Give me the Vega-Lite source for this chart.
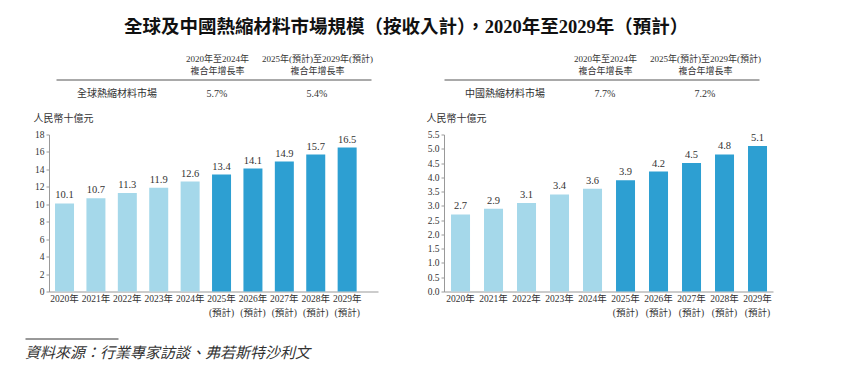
{
  "$schema": "https://vega.github.io/schema/vega-lite/v6.json",
  "background": "white",
  "padding": {"left": 25, "top": 17.5, "right": 5, "bottom": 5},
  "title": {
    "text": "全球及中國熱縮材料市場規模（按收入計），2020年至2029年（預計）",
    "anchor": "middle",
    "fontSize": 18.5,
    "fontWeight": "bold",
    "font": "'Liberation Serif', 'Noto Sans CJK TC', serif",
    "color": "#111111",
    "offset": 18.5,
    "dx": 7
  },
  "columns": 2,
  "spacing": {"row": 47, "column": 42},
  "bounds": "flush",
  "align": "each",
  "center": true,
  "datasets": {
    "global": [
      {"year": "2020年", "value": 10.1, "period": "actual"},
      {"year": "2021年", "value": 10.7, "period": "actual"},
      {"year": "2022年", "value": 11.3, "period": "actual"},
      {"year": "2023年", "value": 11.9, "period": "actual"},
      {"year": "2024年", "value": 12.6, "period": "actual"},
      {"year": "2025年\n(預計)", "value": 13.4, "period": "forecast"},
      {"year": "2026年\n(預計)", "value": 14.1, "period": "forecast"},
      {"year": "2027年\n(預計)", "value": 14.9, "period": "forecast"},
      {"year": "2028年\n(預計)", "value": 15.7, "period": "forecast"},
      {"year": "2029年\n(預計)", "value": 16.5, "period": "forecast"}
    ],
    "china": [
      {"year": "2020年", "value": 2.7, "period": "actual"},
      {"year": "2021年", "value": 2.9, "period": "actual"},
      {"year": "2022年", "value": 3.1, "period": "actual"},
      {"year": "2023年", "value": 3.4, "period": "actual"},
      {"year": "2024年", "value": 3.6, "period": "actual"},
      {"year": "2025年\n(預計)", "value": 3.9, "period": "forecast"},
      {"year": "2026年\n(預計)", "value": 4.2, "period": "forecast"},
      {"year": "2027年\n(預計)", "value": 4.5, "period": "forecast"},
      {"year": "2028年\n(預計)", "value": 4.8, "period": "forecast"},
      {"year": "2029年\n(預計)", "value": 5.1, "period": "forecast"}
    ],
    "tblGlobal": [
      {"head": "", "val": "全球熱縮材料市場"},
      {"head": "2020年至2024年\n複合年增長率", "val": "5.7%"},
      {"head": "2025年(預計)至2029年(預計)\n複合年增長率", "val": "5.4%"}
    ],
    "tblChina": [
      {"head": "", "val": "中國熱縮材料市場"},
      {"head": "2020年至2024年\n複合年增長率", "val": "7.7%"},
      {"head": "2025年(預計)至2029年(預計)\n複合年增長率", "val": "7.2%"}
    ],
    "source": [
      {"text": "資料來源：行業專家訪談、弗若斯特沙利文"}
    ]
  },
  "concat": [
    {
      "width": 315,
      "height": 8,
      "data": {"name": "tblGlobal"},
      "mark": {"type": "text", "baseline": "middle", "dy": 10, "fontSize": 10, "color": "#333333"},
      "encoding": {
        "x": {
          "field": "head", "type": "nominal", "sort": null,
          "scale": {"type": "point", "padding": 0.575, "align": 0.53},
          "axis": {"orient": "top", "title": null, "ticks": false, "domain": true, "domainColor": "#555555", "labelAngle": 0, "labelOverlap": false, "labelExpr": "split(datum.label, '\\n')", "labelFontSize": 9, "labelLineHeight": 12, "labelPadding": 16, "labelLimit": 0}
        },
        "text": {"field": "val"}
      }
    },
    {
      "width": 315,
      "height": 8,
      "data": {"name": "tblChina"},
      "mark": {"type": "text", "baseline": "middle", "dy": 10, "fontSize": 10, "color": "#333333"},
      "encoding": {
        "x": {
          "field": "head", "type": "nominal", "sort": null,
          "scale": {"type": "point", "padding": 0.575, "align": 0.53},
          "axis": {"orient": "top", "title": null, "ticks": false, "domain": true, "domainColor": "#555555", "labelAngle": 0, "labelOverlap": false, "labelExpr": "split(datum.label, '\\n')", "labelFontSize": 9, "labelLineHeight": 12, "labelPadding": 16, "labelLimit": 0}
        },
        "text": {"field": "val"}
      }
    },
    {
      "width": 329,
      "height": 157,
      "data": {"name": "global"},
      "encoding": {
        "x": {
          "field": "year", "type": "ordinal", "sort": null,
          "scale": {"paddingInner": 0.395, "paddingOuter": 0.436, "align": 0.22},
          "axis": {"title": null, "labelAngle": 0, "labelOverlap": false, "ticks": false, "domainColor": "#999999", "labelExpr": "split(datum.label, '\\n')", "labelFontSize": 9.5, "labelLineHeight": 13.5, "labelPadding": 2, "labelLimit": 0}
        },
        "y": {
          "field": "value", "type": "quantitative",
          "scale": {"domain": [0, 18], "nice": false},
          "axis": {"values": [0, 2, 4, 6, 8, 10, 12, 14, 16, 18], "grid": false, "tickSize": 3, "tickColor": "#999999", "domainColor": "#999999", "labelPadding": 2, "labelFontSize": 9.5, "title": "人民幣十億元", "titleAngle": 0, "titleAlign": "left", "titleBaseline": "middle", "titleX": -16, "titleY": -16, "titleFontSize": 10, "titleFontWeight": "normal"}
        }
      },
      "layer": [
        {
          "mark": {"type": "bar"},
          "encoding": {
            "color": {"field": "period", "type": "nominal", "scale": {"domain": ["actual", "forecast"], "range": ["#a5d8ea", "#2d9fd2"]}, "legend": null}
          }
        },
        {
          "mark": {"type": "text", "baseline": "bottom", "dy": -3, "fontSize": 10.5, "color": "#333333"},
          "encoding": {"text": {"field": "value", "format": ".1f"}}
        }
      ]
    },
    {
      "width": 329,
      "height": 157,
      "data": {"name": "china"},
      "encoding": {
        "x": {
          "field": "year", "type": "ordinal", "sort": null,
          "scale": {"paddingInner": 0.424, "paddingOuter": 0.197, "align": 0.54},
          "axis": {"title": null, "labelAngle": 0, "labelOverlap": false, "ticks": false, "domainColor": "#999999", "labelExpr": "split(datum.label, '\\n')", "labelFontSize": 9.5, "labelLineHeight": 13.5, "labelPadding": 2, "labelLimit": 0}
        },
        "y": {
          "field": "value", "type": "quantitative",
          "scale": {"domain": [0, 5.5], "nice": false},
          "axis": {"values": [0, 0.5, 1, 1.5, 2, 2.5, 3, 3.5, 4, 4.5, 5, 5.5], "format": ".1f", "grid": false, "tickSize": 3, "tickColor": "#999999", "domainColor": "#999999", "labelPadding": 2, "labelFontSize": 9.5, "title": "人民幣十億元", "titleAngle": 0, "titleAlign": "left", "titleBaseline": "middle", "titleX": -18, "titleY": -16, "titleFontSize": 10, "titleFontWeight": "normal"}
        }
      },
      "layer": [
        {
          "mark": {"type": "bar"},
          "encoding": {
            "color": {"field": "period", "type": "nominal", "scale": {"domain": ["actual", "forecast"], "range": ["#a5d8ea", "#2d9fd2"]}, "legend": null}
          }
        },
        {
          "mark": {"type": "text", "baseline": "bottom", "dy": -3, "fontSize": 10.5, "color": "#333333"},
          "encoding": {"text": {"field": "value", "format": ".1f"}}
        }
      ]
    },
    {
      "width": 377,
      "height": 28,
      "data": {"name": "source"},
      "mark": {"type": "text", "align": "left", "baseline": "middle", "fontSize": 15, "fontStyle": "italic", "color": "#333333", "font": "'Noto Sans CJK TC', sans-serif"},
      "encoding": {
        "x": {
          "field": "text", "type": "nominal",
          "scale": {"type": "point", "range": [0, 93], "padding": 0, "align": 0},
          "axis": {"orient": "top", "title": null, "labels": false, "ticks": false, "domain": true, "domainColor": "#333333"}
        },
        "text": {"field": "text"}
      }
    }
  ],
  "config": {
    "view": {"stroke": null},
    "font": "'Liberation Serif', 'Noto Sans CJK TC', serif",
    "axis": {"labelColor": "#333333", "titleColor": "#333333", "labelFont": "'Liberation Serif', 'Noto Sans CJK TC', serif", "titleFont": "'Liberation Serif', 'Noto Sans CJK TC', serif"},
    "text": {"font": "'Liberation Serif', 'Noto Sans CJK TC', serif"}
  }
}
